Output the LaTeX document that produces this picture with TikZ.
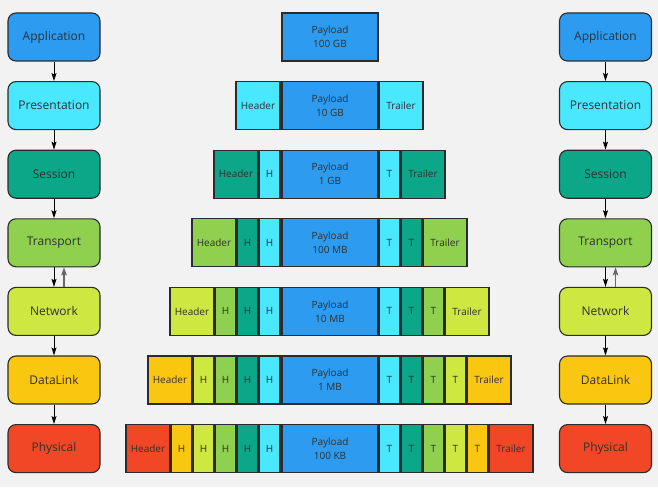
\documentclass[tikz,border=0pt]{standalone}
\usepackage{fontspec}
\setmainfont{Open Sans}
\usetikzlibrary{arrows.meta}
\definecolor{bg}{HTML}{F2F2F2}
\definecolor{edge}{HTML}{2B2B2B}
\definecolor{txt}{HTML}{303030}
\definecolor{c0}{HTML}{2D9BF0}
\definecolor{c1}{HTML}{4AE8FF}
\definecolor{c2}{HTML}{0CA789}
\definecolor{c3}{HTML}{8FD14F}
\definecolor{c4}{HTML}{CEE741}
\definecolor{c5}{HTML}{FAC710}
\definecolor{c6}{HTML}{F24726}
\begin{document}
\begin{tikzpicture}[x=1pt,y=-1pt,
  layer/.style={draw=edge, line width=1.1pt, rounded corners=8pt, minimum width=92pt,
    minimum height=48pt, inner sep=0pt, text=txt, font=\fontsize{12}{14}\selectfont},
  pkt/.style={draw=edge, line width=1.1pt, minimum height=48pt, inner sep=0pt,
    text=txt, align=center, font=\fontsize{10}{14}\selectfont},
  arr/.style={-{Stealth[length=8pt,width=5pt,inset=1.5pt]}, line width=0.9pt, draw=black},
  uparr/.style={-{Stealth[length=8pt,width=5.5pt,inset=1.5pt]}, line width=1.3pt, draw=black!60}]
\fill[bg] (0,0) rectangle (658,487);
\useasboundingbox (0,0) rectangle (658,487);

% layer boxes, left and right
\foreach \i/\name in {0/Application,1/Presentation,2/Session,3/Transport,4/Network,5/DataLink,6/Physical}{
  \pgfmathsetmacro\yc{37+68.6*\i}
  \node[layer, fill=c\i] (l\i) at (54,\yc) {\name};
  \node[layer, fill=c\i] (r\i) at (605.5,\yc) {\name};
}
% connectors
\foreach \i in {0,...,5}{
  \pgfmathtruncatemacro\k{\i+1}
  \draw[arr] (l\i.south) -- (l\k.north);
  \draw[arr] (r\i.south) -- (r\k.north);
}
\draw[uparr] ([xshift=10pt]l4.north) -- ([xshift=10pt]l3.south);
\draw[uparr] ([xshift=10pt]r4.north) -- ([xshift=10pt]r3.south);

% payloads
\foreach \r/\size in {0/100 GB,1/10 GB,2/1 GB,3/100 MB,4/10 MB,5/1 MB,6/100 KB}{
  \pgfmathsetmacro\yc{37+68.6*\r}
  \node[pkt, fill=c0, minimum width=96pt] (p\r) at (330,\yc) {Payload\\\size};
}
% headers, trailers, H and T boxes
\foreach \r in {1,...,6}{
  \pgfmathsetmacro\yc{37+68.6*\r}
  \pgfmathtruncatemacro\n{\r-1}
  \node[pkt, fill=c\r, minimum width=44pt] (hd\r) at (258-22*\n,\yc) {Header};
  \node[pkt, fill=c\r, minimum width=44pt] (tr\r) at (401+22*\n,\yc) {Trailer};
  \ifnum\r>1
    \foreach \j in {1,...,\n}{
      \node[pkt, fill=c\j, minimum width=21pt] (h\r\j) at (291.5-22*\j,\yc) {H};
      \node[pkt, fill=c\j, minimum width=21pt] (t\r\j) at (367.5+22*\j,\yc) {T};
    }
  \fi
}
\end{tikzpicture}
\end{document}
